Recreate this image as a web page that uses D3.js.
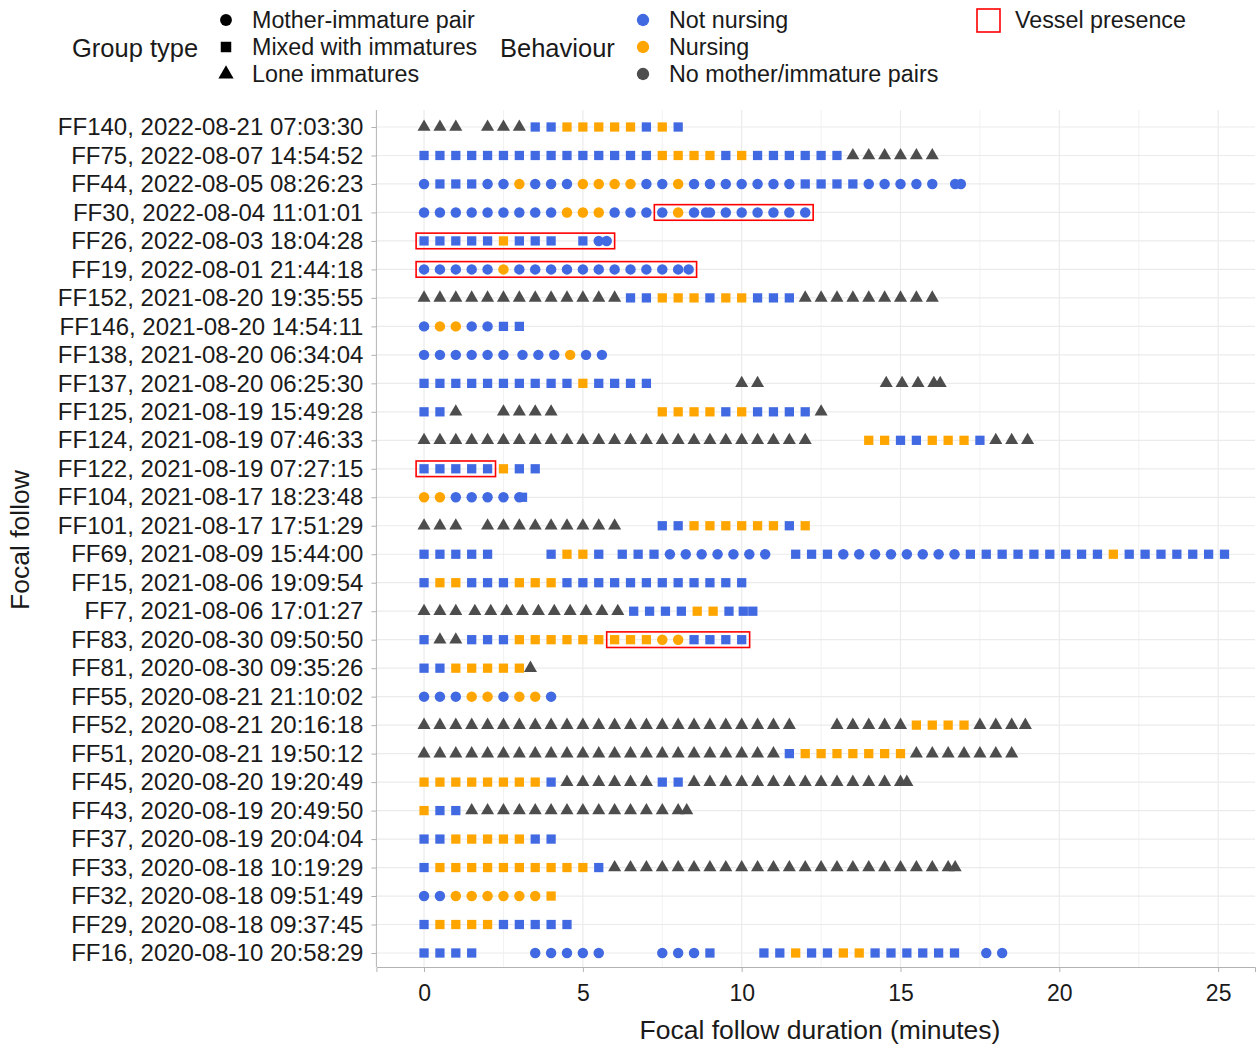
<!DOCTYPE html>
<html>
<head>
<meta charset="utf-8">
<script src="https://cdn.jsdelivr.net/npm/d3@7"></script>
<style>
  body { margin: 0; background: #fff; }
  text { font-family: "Liberation Sans", Arial, sans-serif; }
</style>
</head>
<body>
<svg id="chart" width="1260" height="1046"></svg>
<script>
'use strict';

// focal follows, top to bottom
const follows = [
  "FF140, 2022-08-21 07:03:30", "FF75, 2022-08-07 14:54:52", "FF44, 2022-08-05 08:26:23",
  "FF30, 2022-08-04 11:01:01", "FF26, 2022-08-03 18:04:28", "FF19, 2022-08-01 21:44:18",
  "FF152, 2021-08-20 19:35:55", "FF146, 2021-08-20 14:54:11", "FF138, 2021-08-20 06:34:04",
  "FF137, 2021-08-20 06:25:30", "FF125, 2021-08-19 15:49:28", "FF124, 2021-08-19 07:46:33",
  "FF122, 2021-08-19 07:27:15", "FF104, 2021-08-17 18:23:48", "FF101, 2021-08-17 17:51:29",
  "FF69, 2021-08-09 15:44:00", "FF15, 2021-08-06 19:09:54", "FF7, 2021-08-06 17:01:27",
  "FF83, 2020-08-30 09:50:50", "FF81, 2020-08-30 09:35:26", "FF55, 2020-08-21 21:10:02",
  "FF52, 2020-08-21 20:16:18", "FF51, 2020-08-21 19:50:12", "FF45, 2020-08-20 19:20:49",
  "FF43, 2020-08-19 20:49:50", "FF37, 2020-08-19 20:04:04", "FF33, 2020-08-18 10:19:29",
  "FF32, 2020-08-18 09:51:49", "FF29, 2020-08-18 09:37:45", "FF16, 2020-08-10 20:58:29"
];

// observations every 30 s: [start minute, codes]
// C/c = mother-immature pair, Q/q = mixed with immatures, T = lone immatures
// upper case = not nursing, lower case = nursing, "." = no record
const segments = [
  [[0, "TTT"], [2, "TTTQQqqqqqQqQ"]],
  [[0, "QQQQQQQQQQQQQQQqqqqQqQQQQQQTTTTTT"]],
  [[0, "CQQQCCcCCCccccCCcCCCCCCCQQQQCCCCC"], [16.72, "C"], [16.9, "C"]],
  [[0, "CCCCCCCCCcccCCCCcCCCCCCCC"], [8.88, "C"]],
  [[0, "QQQQQqQQQ.QC"], [5.75, "C"]],
  [[0, "CCCCCcCCCCCCCCCCC"], [8.33, "C"]],
  [[0, "TTTTTTTTTTTTTQQqqqQqqQQQTTTTTTTTT"]],
  [[0, "CccCCQQ"]],
  [[0, "CCCCCC"], [3.1, "CCCcCC"]],
  [[0, "QQQQQQQQQQqQQQQ"], [10, "TT"], [14.55, "TTTT"], [16.25, "T"]],
  [[0, "QQT"], [2.5, "TTTT"], [7.5, "qqqqQqQQQQT"]],
  [[0, "TTTTTTTTTTTTTTTTTTTTTTTTT"], [14, "qqQQqqqQTTT"]],
  [[0, "QQQQQqQQ"]],
  [[0, "ccCCCCC"], [3.1, "Q"]],
  [[0, "TTT"], [2, "TTTTTTTTT"], [7.5, "QQqqqqqqQq"]],
  [[0, "QQQQQ"], [4, "QqqQ"], [6.24, "QQQCCCCCCC"], [11.7, "QQQCCCCCCCCQQQQQQQQQqQQQQQQQ"]],
  [[0, "QqqQQQqqqQQQQQQQQQQQQ"]],
  [[0, "TTT"], [1.6, "TTTTTTTTTTQQQQqqQ"], [10.05, "Q"], [10.35, "Q"]],
  [[0, "QTTQQQqqqqqqqqqccQQQQ"]],
  [[0, "QQqqqqq"], [3.35, "T"]],
  [[0, "CCCccCccC"]],
  [[0, "TTTTTTTTTTTTTTTTTTTTTTTT"], [13, "TTTTTqqqqTTT"], [18.93, "T"]],
  [[0, "TTTTTTTTTTTTTTTTTTTTTTTQqqqqqqqTTTTTTT"]],
  [[0, "qqqqqqqqQTTTTTTQQTTTTTTTTTTTTTT"], [15.2, "T"]],
  [[0, "qQQTTTTTTTTTTTTTT"], [8.27, "T"]],
  [[0, "QQqqqqqQQ"]],
  [[0, "QqqqqqqqqqqQTTTTTTTTTTTTTTTTTTTTTT"], [16.72, "T"]],
  [[0, "CCccccccq"]],
  [[0, "QqqqqQQQQQ"]],
  [[0, "QQQQ"], [3.5, "CCCCC"], [7.5, "CCCQ"], [10.7, "QQqQQqqQQQQQQ"], [17.7, "CC"]]
];

// vessel presence windows (minutes)
const vesselFollows = ["FF30, 2022-08-04 11:01:01", "FF26, 2022-08-03 18:04:28",
  "FF19, 2022-08-01 21:44:18", "FF122, 2021-08-19 07:27:15", "FF83, 2020-08-30 09:50:50"];
const vesselStart = [7.5, 0, 0, 0, 6];
const vesselEnd = [12, 5.75, 8.33, 2, 10];

const xTicks = [0, 5, 10, 15, 20, 25];
const xMinor = [2.5, 7.5, 12.5, 17.5, 22.5];
const groupLabels = ["Mother-immature pair", "Mixed with immatures", "Lone immatures"];
const behaviourLabels = ["Not nursing", "Nursing", "No mother/immature pairs"];

const BLUE = "#4169e1", ORANGE = "#ffa500", GREY = "#4d4d4d";

const svg = d3.select("#chart");
const x = d3.scaleLinear().domain([-1.5, 26.16]).range([376.4, 1255]);
const y = d3.scalePoint().domain(follows).range([127, 953]);
const panelTop = 110, panelBottom = 967;

const shapeOf = c => (c === "C" || c === "c") ? d3.symbolCircle : (c === "T" ? d3.symbolTriangle : d3.symbolSquare);
const colourOf = c => c === "T" ? GREY : (c === c.toUpperCase() ? BLUE : ORANGE);
const sizeOf = c => c === "T" ? 74 : 86;

// expand segments to points
const points = [];
segments.forEach((segs, r) => {
  segs.forEach(([t0, codes]) => {
    codes.split("").forEach((c, i) => {
      if (c !== ".") points.push({ follow: follows[r], t: t0 + i * 0.5, code: c });
    });
  });
});

// grid
const grid = svg.append("g");
grid.selectAll(".minor").data(xMinor).join("line")
  .attr("x1", d => x(d)).attr("x2", d => x(d))
  .attr("y1", panelTop).attr("y2", panelBottom)
  .attr("stroke", "#f2f2f2").attr("stroke-width", 1);
grid.selectAll(".major").data(xTicks).join("line")
  .attr("x1", d => x(d)).attr("x2", d => x(d))
  .attr("y1", panelTop).attr("y2", panelBottom)
  .attr("stroke", "#ebebeb").attr("stroke-width", 1.2);
grid.selectAll(".row").data(follows).join("line")
  .attr("x1", x.range()[0]).attr("x2", x.range()[1])
  .attr("y1", d => y(d)).attr("y2", d => y(d))
  .attr("stroke", "#ebebeb").attr("stroke-width", 1.2);

// points
svg.append("g").selectAll("path").data(points).join("path")
  .attr("transform", d => `translate(${x(d.t)},${y(d.follow)})`)
  .attr("d", d => d3.symbol().type(shapeOf(d.code)).size(sizeOf(d.code))())
  .attr("fill", d => colourOf(d.code));

// vessel boxes
svg.append("g").selectAll("rect").data(vesselFollows).join("rect")
  .attr("x", (d, i) => x(vesselStart[i] - 0.25))
  .attr("width", (d, i) => x(vesselEnd[i] + 0.25) - x(vesselStart[i] - 0.25))
  .attr("y", d => y(d) - 7.8).attr("height", 15.6)
  .attr("fill", "none").attr("stroke", "#ff0000").attr("stroke-width", 1.6);

// axes
const xAxis = svg.append("g").attr("transform", `translate(0,${panelBottom})`)
  .call(d3.axisBottom(x).tickValues(xTicks).tickSize(5).tickPadding(13));
xAxis.select(".domain").attr("stroke", "#b3b3b3");
xAxis.selectAll(".tick line").attr("stroke", "#b3b3b3");
xAxis.selectAll("text").attr("font-size", 23).attr("fill", "#1a1a1a")
  .attr("font-family", "Liberation Sans, Arial, sans-serif");

const yAxis = svg.append("g").attr("transform", `translate(${x.range()[0]},0)`)
  .call(d3.axisLeft(y).tickSize(5).tickPadding(8));
yAxis.select(".domain").attr("stroke", "#b3b3b3").attr("d", `M-0,${panelTop}V${panelBottom}`);
yAxis.selectAll(".tick line").attr("stroke", "#b3b3b3");
yAxis.selectAll("text").attr("font-size", 24).attr("fill", "#1a1a1a")
  .attr("font-family", "Liberation Sans, Arial, sans-serif");

svg.append("text").attr("x", 820).attr("y", 1039).attr("text-anchor", "middle")
  .attr("font-size", 26.5).attr("fill", "#1a1a1a").text("Focal follow duration (minutes)");
svg.append("text").attr("transform", "translate(29,540) rotate(-90)").attr("text-anchor", "middle")
  .attr("font-size", 26.5).attr("fill", "#1a1a1a").text("Focal follow");

// legends
const legY = [20, 47, 74];
const leg = svg.append("g");
leg.append("text").attr("x", 72).attr("y", 48).attr("dy", "0.35em")
  .attr("font-size", 25.5).attr("fill", "#1a1a1a").text("Group type");
leg.selectAll(".gk").data(groupLabels).join("path")
  .attr("transform", (d, i) => `translate(226,${legY[i]})`)
  .attr("d", (d, i) => d3.symbol().type([d3.symbolCircle, d3.symbolSquare, d3.symbolTriangle][i]).size(i === 2 ? 100 : 110)())
  .attr("fill", "#000");
leg.selectAll(".gl").data(groupLabels).join("text")
  .attr("x", 252).attr("y", (d, i) => legY[i]).attr("dy", "0.35em")
  .attr("font-size", 23.3).attr("fill", "#1a1a1a").text(d => d);

leg.append("text").attr("x", 500).attr("y", 48).attr("dy", "0.35em")
  .attr("font-size", 25.5).attr("fill", "#1a1a1a").text("Behaviour");
leg.selectAll(".bk").data(behaviourLabels).join("path")
  .attr("transform", (d, i) => `translate(643,${legY[i]})`)
  .attr("d", d3.symbol().type(d3.symbolCircle).size(120)())
  .attr("fill", (d, i) => [BLUE, ORANGE, GREY][i]);
leg.selectAll(".bl").data(behaviourLabels).join("text")
  .attr("x", 669).attr("y", (d, i) => legY[i]).attr("dy", "0.35em")
  .attr("font-size", 23.3).attr("fill", "#1a1a1a").text(d => d);

leg.append("rect").attr("x", 977).attr("y", 9).attr("width", 23).attr("height", 23)
  .attr("fill", "none").attr("stroke", "#ff0000").attr("stroke-width", 1.6);
leg.append("text").attr("x", 1015).attr("y", 20).attr("dy", "0.35em")
  .attr("font-size", 23.3).attr("fill", "#1a1a1a").text("Vessel presence");
</script>
</body>
</html>
